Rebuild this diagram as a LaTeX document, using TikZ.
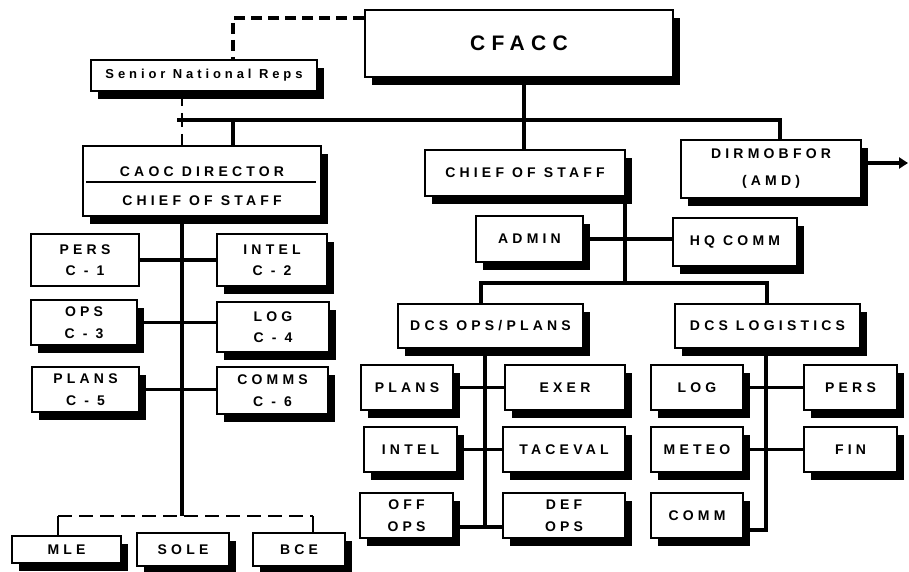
\documentclass[tikz,border=0pt]{standalone}
\usepackage{fontspec}
\setmainfont{Liberation Sans}[LetterSpace=30]
\usetikzlibrary{shadows,backgrounds,arrows.meta}
\newcommand\bx[7]{%
 \pgfmathsetmacro\bxw{#5-#3}\pgfmathsetmacro\bxh{#6-#4}%
 \node[#1, minimum width=\bxw pt, minimum height=\bxh pt] (#2) at ({(#3+#5)/2},{(#4+#6)/2}) {#7};}
\tikzset{
 box/.style={draw, line width=1.6pt, fill=white, inner sep=0pt, align=center,
   font=\bfseries\fontsize{14}{21.5}\selectfont},
 sbox/.style={box, drop shadow={shadow xshift=7pt, shadow yshift=-8pt, fill=black, opacity=1}},
 conn/.style={line width=3.4pt},
 bigdash/.style={line width=3.4pt, dash pattern=on 11pt off 6pt},
 thindash/.style={line width=2.2pt, dash pattern=on 14pt off 7pt},
 lbl/.style={inner sep=0pt, font=\bfseries\fontsize{14}{21}\selectfont}
}
\begin{document}
\begin{tikzpicture}[x=1pt,y=-1pt]
\useasboundingbox (0,0) rectangle (909,571);
% boxes
\bx{sbox,font=\bfseries\fontsize{13}{15}\selectfont}{snr}{91}{60}{317}{91}{Senior National Reps}
\bx{sbox,font=\bfseries\fontsize{21}{26}\selectfont}{cfacc}{365}{10}{673}{77}{CFACC}
\bx{sbox}{caoc}{83}{146}{321}{216}{}
\node[lbl] (caoc1) at (202,172) {CAOC DIRECTOR};
\node[lbl] (caoc2) at (202,201) {CHIEF OF STAFF};
\coordinate (dv1) at (86,182);
\coordinate (dv2) at (316,182);
\draw[line width=1.6pt] (dv1) -- (dv2);
\bx{sbox}{cos}{425}{150}{625}{196}{CHIEF OF STAFF}
\bx{sbox,font=\bfseries\fontsize{14}{27}\selectfont}{dir}{681}{140}{861}{198}{DIRMOBFOR\\(AMD)}
\bx{sbox}{admin}{476}{216}{583}{262}{ADMIN}
\bx{sbox}{hq}{673}{218}{797}{266}{HQ COMM}
\bx{sbox}{dops}{398}{304}{583}{348}{DCS OPS/PLANS}
\bx{sbox}{dlog}{675}{304}{860}{348}{DCS LOGISTICS}
\bx{box}{pers}{31}{234}{139}{286}{PERS\\C - 1}
\bx{sbox}{intel}{217}{234}{327}{286}{INTEL\\C - 2}
\bx{sbox}{ops}{31}{300}{137}{345}{OPS\\C - 3}
\bx{sbox}{logc}{217}{302}{329}{352}{LOG\\C - 4}
\bx{sbox}{plansc}{32}{367}{139}{412}{PLANS\\C - 5}
\bx{sbox}{comms}{217}{367}{328}{414}{COMMS\\C - 6}
\bx{sbox}{mle}{12}{536}{121}{563}{MLE}
\bx{sbox}{sole}{137}{533}{229}{566}{SOLE}
\bx{sbox}{bce}{253}{533}{345}{566}{BCE}
\bx{sbox}{plans}{361}{365}{453}{410}{PLANS}
\bx{sbox}{exer}{505}{365}{625}{410}{EXER}
\bx{sbox}{intelb}{364}{427}{457}{472}{INTEL}
\bx{sbox}{tac}{503}{427}{625}{472}{TACEVAL}
\bx{sbox}{off}{360}{493}{453}{538}{OFF\\OPS}
\bx{sbox}{def}{503}{493}{625}{538}{DEF\\OPS}
\bx{sbox}{logb}{651}{365}{743}{410}{LOG}
\bx{sbox}{persb}{804}{365}{897}{410}{PERS}
\bx{sbox}{meteo}{651}{427}{743}{472}{METEO}
\bx{sbox}{fin}{804}{427}{897}{472}{FIN}
\bx{sbox}{comm}{651}{493}{743}{538}{COMM}
% coordinates
\coordinate (busL) at (177,120);
\coordinate (busR) at (780,120);
\coordinate (cfx) at (524,120);
\coordinate (caocin) at (233,120);
\coordinate (lx) at (182,516);
\coordinate (topd) at (233,18);
\coordinate (bl) at (58,516);
\coordinate (br) at (313,516);
\coordinate (hb1) at (481,283);
\coordinate (hb2) at (767,283);
\coordinate (mx) at (625,283);
\coordinate (ox) at (485,527);
\coordinate (rx) at (766,530);
\coordinate (arrEnd) at (908,163);
\begin{scope}[on background layer]
\draw[bigdash] (cfacc.west |- topd) -- (topd) -- (topd |- snr.north);
\draw[thindash] (lx |- snr.south) -- (lx |- caoc.north);
\draw[conn] (cfx |- cfacc.south) -- (cfx) -- (cfx |- cos.north);
\draw[conn] (busL) -- (busR) -- (busR |- dir.north);
\draw[conn] (caocin) -- (caocin |- caoc.north);
\draw[conn] (lx |- caoc.south) -- (lx);
\draw[conn] (pers.east) -- (pers.east -| intel.west);
\draw[conn] (ops.east) -- (ops.east -| logc.west);
\draw[conn] (plansc.east) -- (plansc.east -| comms.west);
\draw[thindash] (bl) -- (br);
\draw[line width=2.6pt] (bl) -- (bl |- mle.north);
\draw[line width=2.6pt] (br) -- (br |- bce.north);
\draw[conn] (mx |- cos.south) -- (mx);
\draw[conn] (admin.east) -- (admin.east -| hq.west);
\draw[conn] (hb1 |- dops.north) -- (hb1) -- (hb2) -- (hb2 |- dlog.north);
\draw[conn] (ox |- dops.south) -- (ox);
\draw[conn] (plans.east) -- (plans.east -| exer.west);
\draw[conn] (intelb.east) -- (intelb.east -| tac.west);
\draw[conn] (off.east |- ox) -- (def.west |- ox);
\draw[conn] (rx |- dlog.south) -- (rx) -- (comm.east |- rx);
\draw[conn] (logb.east) -- (logb.east -| persb.west);
\draw[conn] (meteo.east) -- (meteo.east -| fin.west);
\end{scope}
\draw[conn, -{Triangle[length=9pt,width=11pt]}] (dir.east |- arrEnd) -- (arrEnd);
\end{tikzpicture}
\end{document}
